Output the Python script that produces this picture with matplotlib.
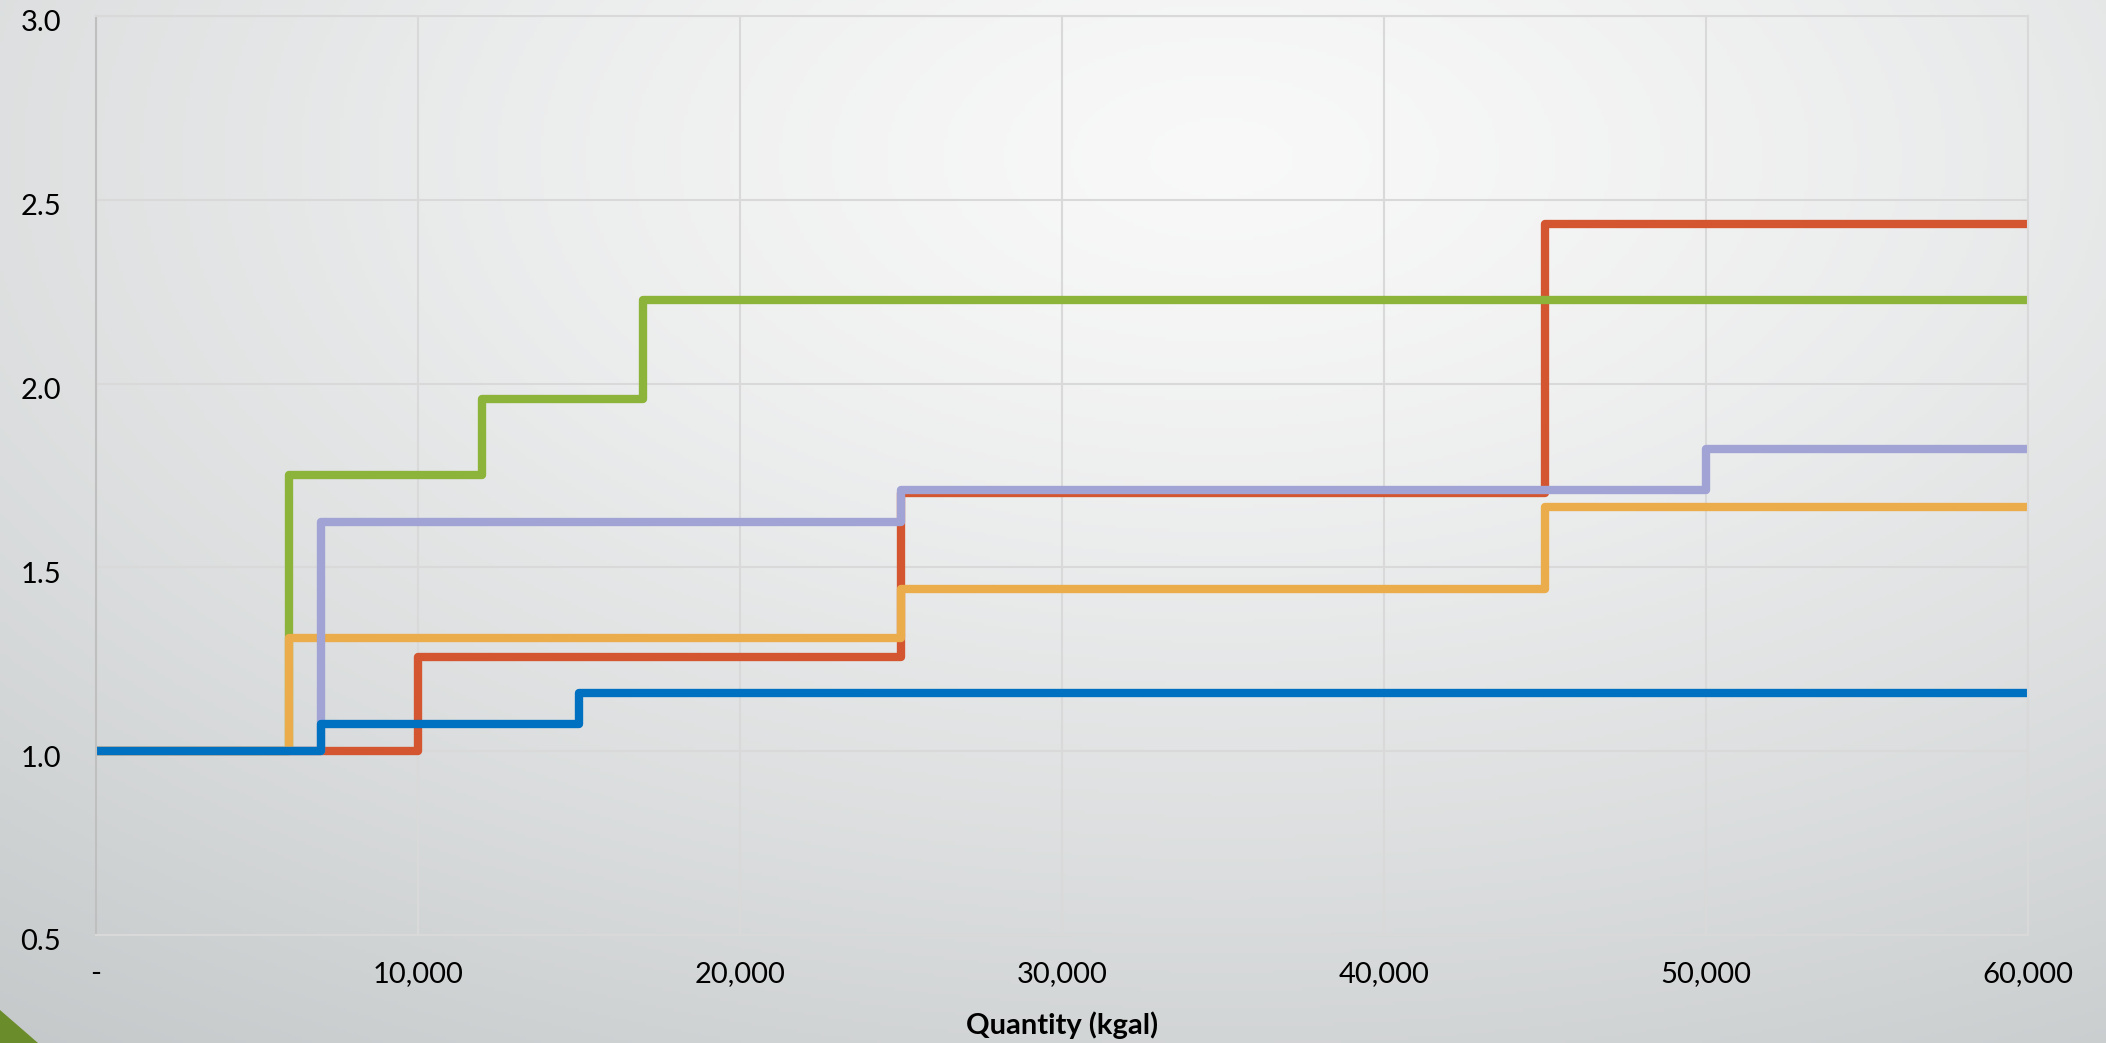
import numpy as np
import matplotlib
matplotlib.use("Agg")
import matplotlib.pyplot as plt
import matplotlib.transforms as mtransforms
from matplotlib.patches import Polygon

# ---- data ----
x_ticks = [0, 10000, 20000, 30000, 40000, 50000, 60000]
x_tick_labels = ["-", "10,000", "20,000", "30,000", "40,000", "50,000", "60,000"]
y_ticks = [0.5, 1.0, 1.5, 2.0, 2.5, 3.0]
y_tick_labels = ["0.5", "1.0", "1.5", "2.0", "2.5", "3.0"]

red_x = [0, 7000, 10000, 25000, 45000, 60000]
red_y = [1.0, 1.0, 1.255, 1.703, 2.435, 2.435]
green_x = [0, 6000, 12000, 17000, 60000]
green_y = [1.0, 1.75, 1.957, 2.228, 2.228]
orange_x = [0, 6000, 25000, 45000, 60000]
orange_y = [1.0, 1.308, 1.442, 1.665, 1.665]
purple_x = [0, 7000, 25000, 50000, 60000]
purple_y = [1.0, 1.623, 1.711, 1.822, 1.822]
blue_x = [0, 7000, 15000, 60000]
blue_y = [1.0, 1.074, 1.158, 1.158]

series = [
    (red_x, red_y, "#d35631"),
    (green_x, green_y, "#8cb33a"),
    (orange_x, orange_y, "#ebac4c"),
    (purple_x, purple_y, "#a1a3d4"),
    (blue_x, blue_y, "#0070c0"),
]

W, H = 2106, 1043
fig = plt.figure(figsize=(W / 100, H / 100), dpi=100)

# background gradient
bg = fig.add_axes([0, 0, 1, 1], zorder=-10)
bg.set_axis_off()
yy, xx = np.mgrid[0:1:300j, 0:1:600j]
cx, cy = 0.58, 0.15  # in image coords (top=0)
d = np.sqrt(((xx - cx) * 1.0) ** 2 + ((yy - cy) * 0.9) ** 2)
d = np.clip(d / 0.95, 0, 1)
light = np.array([0.975, 0.975, 0.975])
dark = np.array([0.775, 0.79, 0.795])
img = light[None, None, :] * (1 - d[..., None] ** 1.3) + dark[None, None, :] * (d[..., None] ** 1.3)
bg.imshow(img, extent=[0, 1, 0, 1], aspect="auto", origin="upper")
bg.set_xlim(0, 1)
bg.set_ylim(0, 1)
# green corner triangle
bg.add_patch(Polygon([[0, 0], [0, 33 / H], [38 / W, 0]], closed=True,
                     facecolor="#6b8c2a", edgecolor="none"))

ax = fig.add_axes([96 / W, 1 - 935 / H, (2028 - 96) / W, (935 - 16) / H])
ax.set_facecolor("none")

for xs, ys, c in series:
    ax.step(xs, ys, where="post", color=c, lw=6.0,
            solid_joinstyle="round", solid_capstyle="butt")

ax.set_xlim(0, 60000)
ax.set_ylim(0.5, 3.0)
ax.set_xticks(x_ticks)
ax.set_xticklabels(x_tick_labels)
ax.set_yticks(y_ticks)
ax.set_yticklabels(y_tick_labels)
ax.grid(True, color="#d9d9d9", lw=1.5, zorder=0)
ax.set_axisbelow(True)
for s in ["top", "right", "bottom"]:
    ax.spines[s].set_color("#d9d9d9")
    ax.spines[s].set_linewidth(1.5)
ax.spines["left"].set_color("#bfbfbf")
ax.spines["left"].set_linewidth(1.5)
ax.tick_params(axis="both", length=0, labelsize=21, colors="black")
ax.tick_params(axis="y", pad=25)
ax.tick_params(axis="x", pad=19)
for lab in ax.get_xticklabels() + ax.get_yticklabels():
    lab.set_fontfamily("Lato")
offset = mtransforms.ScaledTranslation(0, -5 / 100, fig.dpi_scale_trans)
for lab in ax.get_yticklabels():
    lab.set_transform(lab.get_transform() + offset)
ax.set_xlabel("Quantity (kgal)", fontsize=21, fontweight="bold", family="Lato", labelpad=17)

fig.savefig("out.png", dpi=100)
